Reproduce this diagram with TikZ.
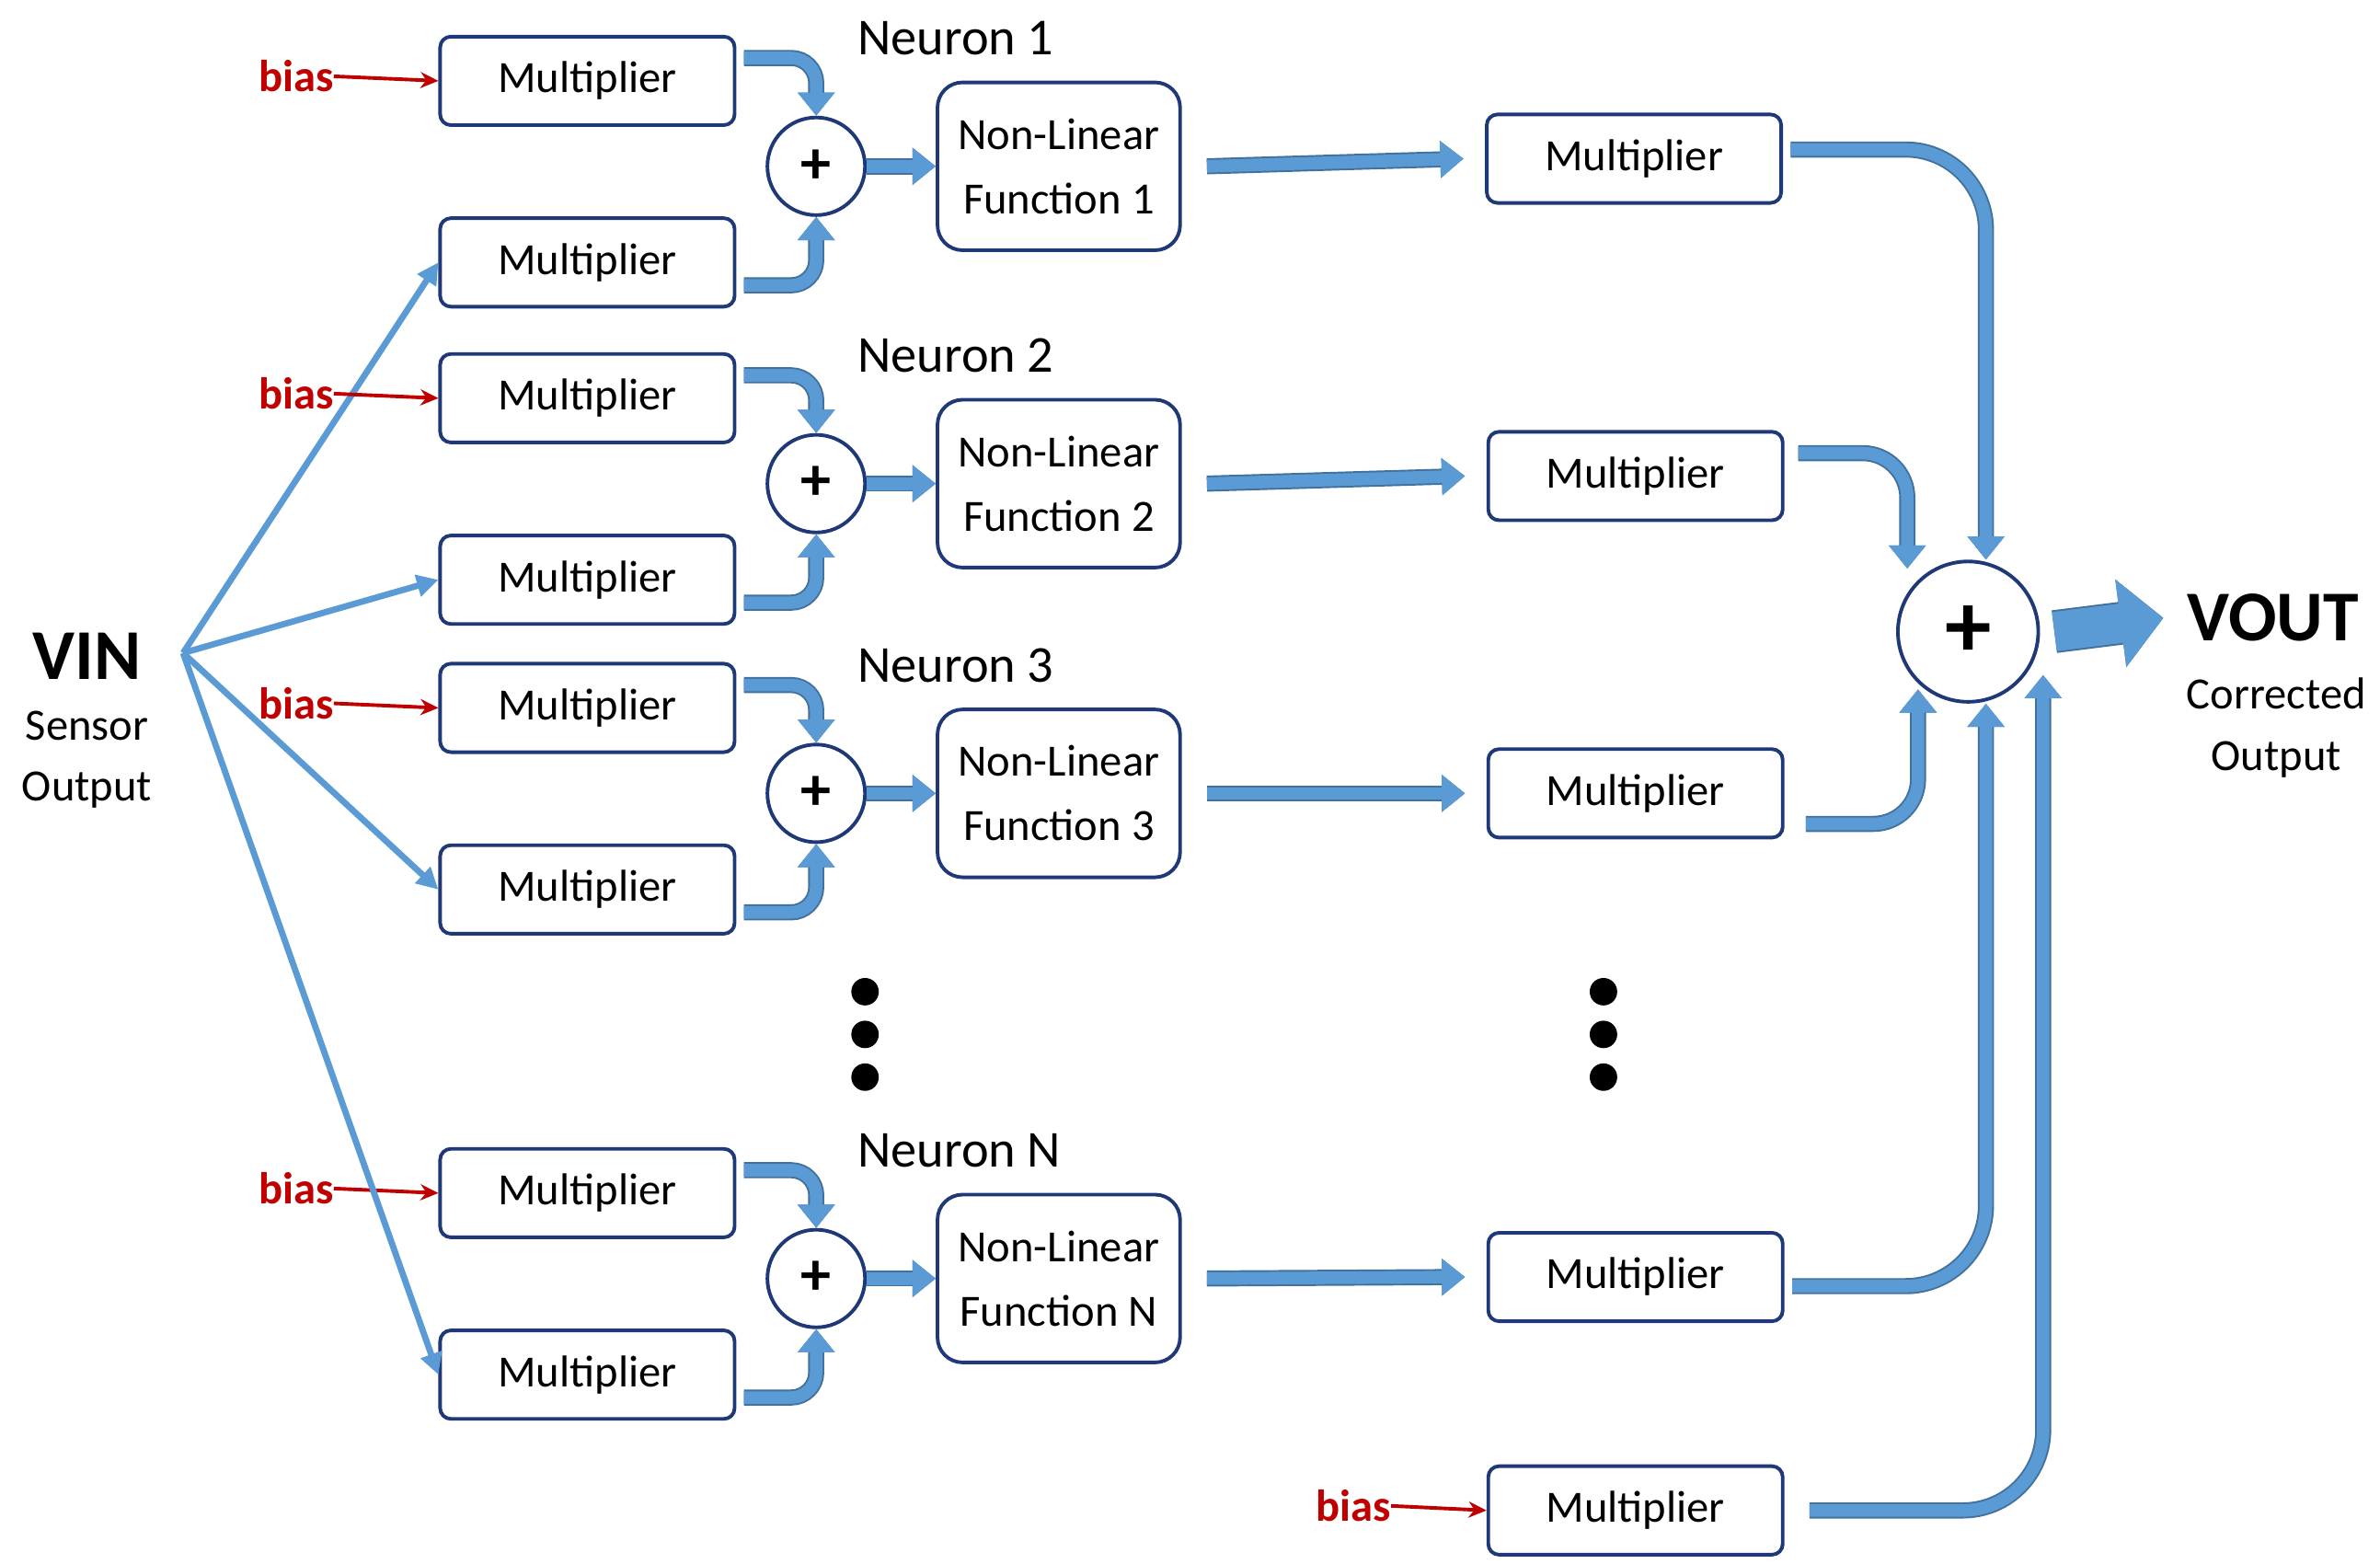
\documentclass[tikz,border=0pt]{standalone}
\usepackage{fontspec}
\setmainfont{Carlito}
\usetikzlibrary{arrows.meta,calc}
\definecolor{fb}{RGB}{91,155,213}
\definecolor{fo}{RGB}{65,113,156}
\definecolor{nb}{RGB}{31,56,120}
\definecolor{br}{RGB}{192,0,0}
\begin{document}
\begin{tikzpicture}[x=0.03cm,y=-0.03cm,
 mult/.style={draw=nb,line width=2pt,rounded corners=6pt,minimum width=193*0.03cm,minimum height=58*0.03cm,font=\fontsize{25}{28}\selectfont,inner sep=0pt},
 nlf/.style={draw=nb,line width=2pt,rounded corners=14pt,minimum width=159*0.03cm,minimum height=110*0.03cm,font=\fontsize{25}{36}\selectfont,align=center,inner sep=0pt},
 sum/.style={circle,draw=nb,line width=2pt,minimum size=64*0.03cm,inner sep=0pt,font=\fontsize{34}{36}\bfseries},
 neu/.style={font=\fontsize{29}{32}\selectfont},
 biast/.style={text=br,font=\fontsize{25}{28}\bfseries\selectfont,inner sep=0pt},
 biasa/.style={br,line width=2pt,-{Stealth[length=10pt,width=9pt]}},
 thin/.style={fb,line width=3.5pt,-{Triangle[length=12pt,width=12pt]}},
 fat/.style={fb,line width=7pt,-{Triangle[length=13pt,width=20pt]},preaction={draw=fo,line width=9pt,-{Triangle[length=13pt,width=20pt]}}},
 dot/.style={circle,fill=black,minimum size=18*0.03cm,inner sep=0pt}]
\fill[white] (0,0) rectangle (1560,1025);
% left side
\node[font=\fontsize{40}{44}\bfseries\selectfont] (vin) at (57,430) {VIN};
\node[font=\fontsize{25}{34}\selectfont,align=center] (vins) at (57,498) {Sensor\\Output};
\coordinate (src) at (120,428);
\foreach \i/\yt/\yb/\cy/\lab in {1/53/172/109/1,2/261/380/317/2,3/464/583/520/3,4/782/901/838/N}{
 \node[mult] (a\i) at (385,\yt) {Multiplier};
 \node[mult] (b\i) at (385,\yb) {Multiplier};
 \node[sum] (s\i) at (535,\cy) {+};
 \node[nlf] (f\i) at (694,\cy) {Non-Linear\\Function \lab};
 \node[neu,anchor=west] (n\i) at (558,\cy-84) {Neuron \lab};
 \node[biast] (bt\i) at (194,\yt-3) {bias};
 \draw[biasa] (bt\i.east) -- (a\i.west);
 \draw[fat,rounded corners=14pt] ([shift={(5,-15)}]a\i.east) -| (s\i.north);
 \draw[fat,rounded corners=14pt] ([shift={(5,15)}]b\i.east) -| (s\i.south);
 \draw[fat] (s\i.east) -- (f\i.west);
 \draw[thin] (src) -- (b\i.west);
}
\node[mult] (r1) at (1071,104) {Multiplier};
\node[mult] (r2) at (1072,312) {Multiplier};
\node[mult] (r3) at (1072,520) {Multiplier};
\node[mult] (r4) at (1072,837) {Multiplier};
\node[mult] (r5) at (1072,990) {Multiplier};
\node[biast] (bt5) at (887,987) {bias};
\draw[biasa] (bt5.east) -- (r5.west);
\draw[fat] ([xshift=14pt]f1.east) -- ([xshift=-12pt]r1.west);
\foreach \i in {2,3,4}{\draw[fat] ([xshift=14pt]f\i.east) -- ([xshift=-12pt]r\i.west);}
\node[circle,draw=nb,line width=2pt,minimum size=92*0.03cm,inner sep=0pt,font=\fontsize{52}{54}\bfseries\selectfont] (S) at (1290,414) {+};
\node[font=\fontsize{40}{44}\bfseries\selectfont] (vout) at (1490,405) {VOUT};
\node[font=\fontsize{25}{34}\selectfont,align=center] (vouts) at (1492,477) {Corrected\\Output};
\draw[fat,rounded corners=45pt] ([shift={(5,-6)}]r1.east) -| ([xshift=10]S.north);
\draw[fat,rounded corners=25pt] ([shift={(9,-15)}]r2.east) -| ([xshift=-34,yshift=-5]S.center |- S.north);
\draw[fat,rounded corners=25pt] ([shift={(14,20)}]r3.east) -| ([xshift=-28,yshift=8]S.center |- S.south);
\draw[fat,rounded corners=45pt] ([shift={(5,6)}]r4.east) -| ([xshift=10]S.south);
\draw[fat,rounded corners=45pt] ([xshift=14]r5.east) -| ([xshift=42,yshift=16]S.center |- S.south);
\draw[fb,line width=22pt,-{Triangle[length=24pt,width=48pt]},preaction={draw=fo,line width=24pt,-{Triangle[length=24pt,width=48pt]}}] ([xshift=8]S.east) -- ([xshift=-10]vout.west);
\foreach \k/\y in {1/650,2/678,3/706}{
 \node[dot] (dl\k) at (567,\y) {};
 \node[dot] (dr\k) at (1051,\y) {};
}
\end{tikzpicture}
\end{document}
